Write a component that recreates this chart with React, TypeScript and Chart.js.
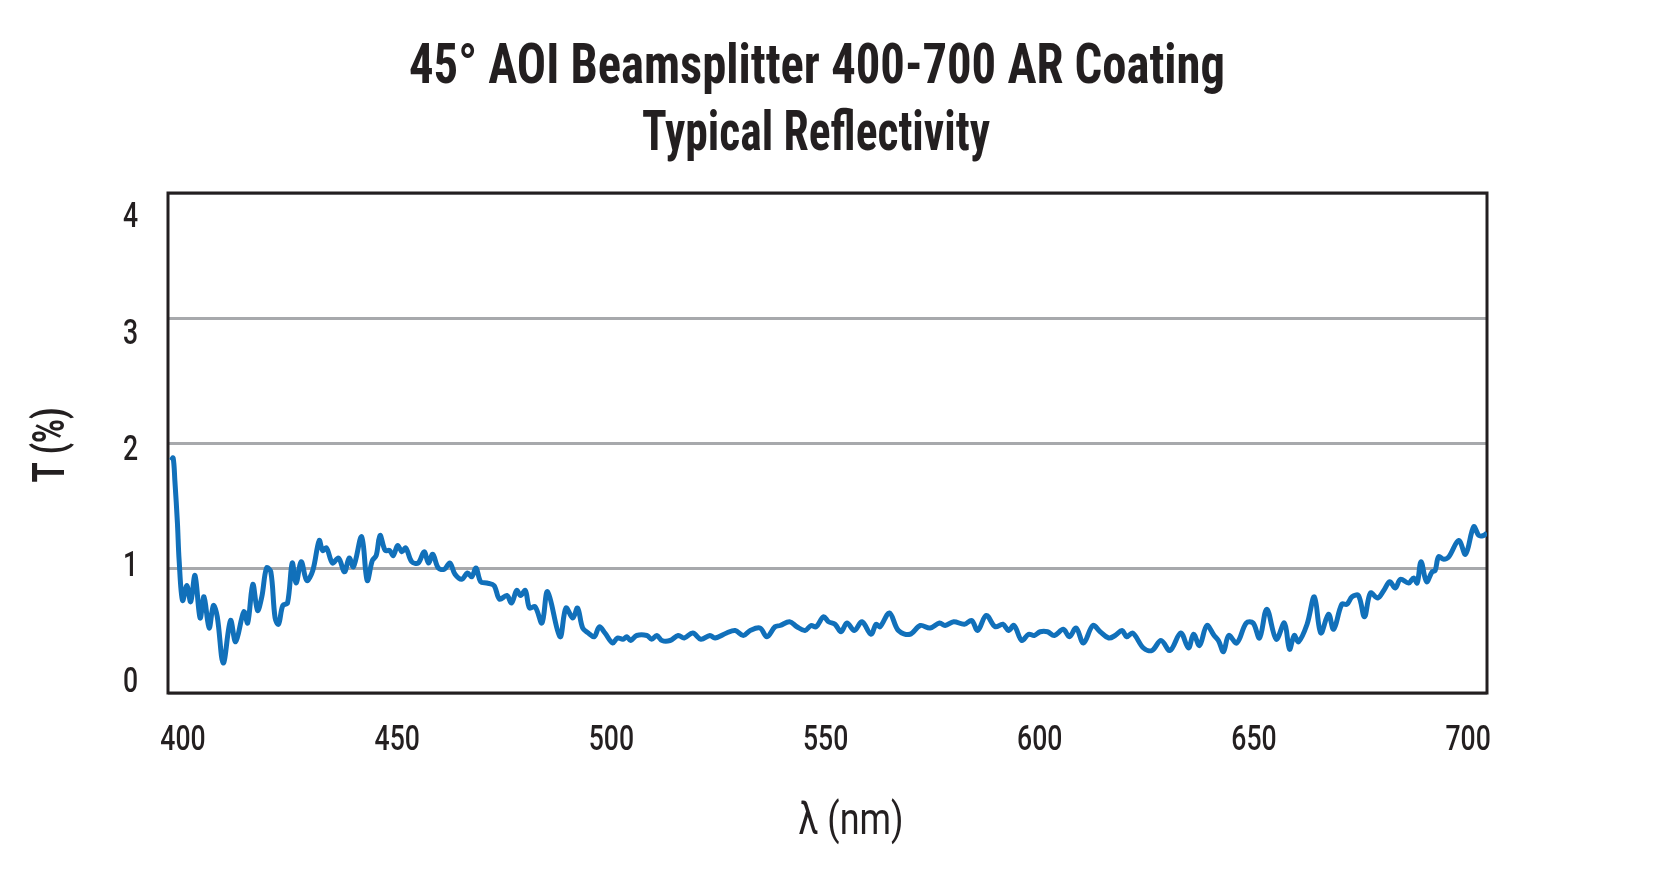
import { useEffect, useRef } from "react";
import { Chart, registerables } from "chart.js";

Chart.register(...registerables);

const TITLE_LINES = ["45° AOI Beamsplitter 400-700 AR Coating", "Typical Reflectivity"];
const X_TITLE = "λ (nm)";
const Y_TITLE = "T (%)";
const X_TICKS = [400, 450, 500, 550, 600, 650, 700];
const Y_TICKS = [0, 1, 2, 3, 4];

const WAVELENGTH = [
  397.2, 397.7, 398.1, 398.7, 399.1, 399.9, 400.9, 401.8, 402.8, 404.0,
  404.9, 406.1, 407.1, 408.0, 409.4, 411.1, 412.3, 414.2, 415.1, 416.3,
  417.4, 418.4, 419.5, 420.5, 421.5, 422.3, 423.3, 424.4, 425.5, 426.4,
  427.6, 428.9, 430.3, 431.8, 432.6, 433.5, 434.9, 436.3, 437.7, 438.8,
  439.8, 441.7, 443.0, 444.2, 445.1, 446.0, 447.2, 448.2, 449.1, 450.1,
  451.1, 452.0, 453.4, 454.9, 456.3, 457.3, 458.3, 459.6, 461.0, 462.3,
  463.5, 465.1, 466.4, 467.4, 468.4, 469.5, 470.9, 472.6, 473.9, 475.6,
  476.7, 477.9, 478.8, 479.9, 480.9, 482.2, 483.8, 485.1, 488.0, 489.4,
  491.0, 492.1, 493.3, 494.6, 496.0, 497.2, 498.5, 500.3, 501.4, 502.7,
  503.6, 504.5, 505.9, 508.3, 509.4, 510.6, 511.8, 513.7, 515.6, 517.0,
  519.0, 520.9, 523.0, 524.2, 526.9, 528.9, 530.8, 532.4, 534.7, 536.3,
  538.2, 539.4, 541.6, 543.3, 545.2, 546.6, 547.8, 549.5, 550.7, 552.2,
  553.6, 555.0, 556.7, 558.5, 560.6, 561.8, 562.7, 564.9, 567.0, 569.7,
  572.1, 574.4, 576.6, 577.9, 579.9, 582.4, 584.1, 585.5, 587.5, 589.6,
  591.4, 592.7, 594.0, 595.8, 597.4, 598.7, 600.1, 601.8, 603.4, 605.5,
  606.9, 608.5, 610.2, 612.4, 614.1, 616.1, 617.6, 619.2, 620.3, 621.7,
  624.2, 626.2, 628.3, 630.4, 632.9, 634.7, 635.9, 637.3, 639.0, 640.7,
  641.7, 642.9, 644.1, 646.0, 648.2, 649.8, 651.3, 653.0, 655.2, 657.1,
  658.3, 659.4, 660.4, 662.4, 664.1, 665.6, 667.4, 668.6, 670.5, 671.7,
  672.9, 674.4, 675.8, 677.2, 678.9, 680.3, 681.7, 683.0, 684.2, 686.1,
  687.3, 688.1, 689.0, 690.3, 691.6, 692.3, 693.1, 694.3, 695.5, 697.8,
  699.4, 701.3, 702.5, 703.6, 704.4,
];

const REFLECTANCE = [
  1.86, 1.88, 1.70, 1.36, 1.06, 0.74, 0.86, 0.73, 0.94, 0.60,
  0.77, 0.52, 0.70, 0.61, 0.24, 0.58, 0.41, 0.65, 0.56, 0.87,
  0.66, 0.77, 1.00, 0.97, 0.60, 0.55, 0.70, 0.72, 1.04, 0.88,
  1.05, 0.90, 0.98, 1.22, 1.14, 1.16, 1.04, 1.08, 0.97, 1.08,
  1.01, 1.25, 0.90, 1.06, 1.10, 1.26, 1.14, 1.14, 1.10, 1.18,
  1.13, 1.16, 1.05, 1.04, 1.13, 1.04, 1.11, 1.00, 0.99, 1.04,
  0.95, 0.91, 0.96, 0.93, 1.00, 0.89, 0.88, 0.86, 0.75, 0.78,
  0.72, 0.82, 0.78, 0.82, 0.68, 0.69, 0.56, 0.81, 0.45, 0.68,
  0.60, 0.68, 0.52, 0.48, 0.45, 0.53, 0.48, 0.40, 0.44, 0.43,
  0.45, 0.42, 0.46, 0.46, 0.43, 0.46, 0.42, 0.42, 0.46, 0.44,
  0.48, 0.43, 0.46, 0.44, 0.48, 0.50, 0.46, 0.50, 0.52, 0.45,
  0.53, 0.54, 0.57, 0.53, 0.50, 0.54, 0.53, 0.61, 0.57, 0.55,
  0.49, 0.56, 0.50, 0.57, 0.47, 0.55, 0.53, 0.64, 0.50, 0.47,
  0.54, 0.52, 0.56, 0.54, 0.57, 0.55, 0.58, 0.50, 0.62, 0.53,
  0.55, 0.50, 0.54, 0.42, 0.47, 0.46, 0.49, 0.49, 0.46, 0.51,
  0.45, 0.52, 0.40, 0.54, 0.49, 0.44, 0.46, 0.50, 0.45, 0.48,
  0.36, 0.34, 0.42, 0.34, 0.48, 0.36, 0.47, 0.38, 0.54, 0.46,
  0.42, 0.33, 0.46, 0.40, 0.56, 0.56, 0.44, 0.67, 0.43, 0.56,
  0.35, 0.46, 0.41, 0.55, 0.77, 0.48, 0.63, 0.51, 0.71, 0.71,
  0.77, 0.78, 0.61, 0.80, 0.76, 0.82, 0.89, 0.84, 0.91, 0.88,
  0.92, 0.88, 1.05, 0.89, 0.97, 0.98, 1.09, 1.07, 1.09, 1.22,
  1.11, 1.33, 1.26, 1.26, 1.28,
];

const X_MIN = 396.5;
const X_MAX = 704.4;
const Y_MIN = 0;
const Y_MAX = 4;
// label axis: tick labels in the original are spaced slightly tighter than the grid
const Y_LABEL_MIN = -0.112;
const Y_LABEL_MAX = 4.189;

const TEXT_COLOR = "#231F20";
const LINE_COLOR = "#1170BA";
const GRID_COLOR = "#A7A9AC";
const CONDENSED = "'Roboto Condensed', 'Liberation Sans Narrow', 'DejaVu Sans Condensed', Roboto, 'Liberation Sans', sans-serif";
const TICK_FONT = "500 35px Roboto, 'Liberation Sans', sans-serif";
const TICK_SQUEEZE = 0.76;

const textPlugin = {
  id: "customTexts",
  beforeDatasetsDraw(chart: any) {
    const { ctx, chartArea } = chart;
    ctx.save();
    ctx.strokeStyle = TEXT_COLOR;
    ctx.lineWidth = 3;
    ctx.strokeRect(chartArea.left, chartArea.top, chartArea.right - chartArea.left, chartArea.bottom - chartArea.top);
    ctx.restore();
  },
  afterDraw(chart: any) {
    const ctx = chart.ctx as CanvasRenderingContext2D;
    const fitted = (text: string, cx: number, cy: number, font: string, width: number, rotate: boolean) => {
      ctx.save();
      ctx.font = font;
      const w = ctx.measureText(text).width;
      ctx.translate(cx, cy);
      if (rotate) ctx.rotate(-Math.PI / 2);
      ctx.scale(width / w, 1);
      ctx.textAlign = "center";
      ctx.textBaseline = "alphabetic";
      ctx.fillStyle = TEXT_COLOR;
      ctx.fillText(text, 0, 0);
      ctx.restore();
    };
    const squeezed = (text: string, x: number, y: number, align: CanvasTextAlign) => {
      ctx.save();
      ctx.font = TICK_FONT;
      ctx.translate(x, y);
      ctx.scale(TICK_SQUEEZE, 1);
      ctx.textAlign = align;
      ctx.textBaseline = "alphabetic";
      ctx.fillStyle = TEXT_COLOR;
      ctx.fillText(text, 0, 0);
      ctx.restore();
    };
    // axis tick labels, positioned by the chart's own scales
    const xs = chart.scales.x;
    const ys = chart.scales.yLabels;
    X_TICKS.forEach((v) => squeezed(String(v), xs.getPixelForValue(v), chart.chartArea.bottom + 57, "center"));
    Y_TICKS.forEach((v) => squeezed(String(v), chart.chartArea.left - 30, ys.getPixelForValue(v) + 12.5, "right"));

    fitted(TITLE_LINES[0], 817, 83, `bold 55px ${CONDENSED}`, 816, false);
    fitted(TITLE_LINES[1], 816, 150, `bold 55px ${CONDENSED}`, 348, false);
    fitted(X_TITLE, 851, 834, `44px Roboto, sans-serif`, 105, false);
    fitted(Y_TITLE, 64, 445, `bold 44px Roboto, sans-serif`, 75, true);
  },
};

export default function App() {
  const canvasRef = useRef<HTMLCanvasElement | null>(null);

  useEffect(() => {
    if (!canvasRef.current) return;
    const points = WAVELENGTH.map((x, i) => ({ x, y: REFLECTANCE[i] }));
    const chart = new Chart(canvasRef.current, {
      type: "line",
      data: {
        datasets: [
          {
            label: "Reflectivity",
            data: points,
            xAxisID: "x",
            yAxisID: "y",
            borderColor: LINE_COLOR,
            borderWidth: 5,
            pointRadius: 0,
            tension: 0.35,
            fill: false,
          },
        ],
      },
      options: {
        animation: false,
        responsive: true,
        maintainAspectRatio: false,
        layout: { padding: { top: 193, right: 180, left: 0, bottom: 0 } },
        plugins: {
          legend: { display: false },
          title: { display: false },
          tooltip: { enabled: false },
        },
        scales: {
          x: {
            type: "linear",
            min: X_MIN,
            max: X_MAX,
            grid: { display: false },
            border: { display: false },
            afterFit: (s: any) => {
              s.height = 884 - 693;
            },
            afterBuildTicks: (s: any) => {
              s.ticks = X_TICKS.map((v) => ({ value: v }));
            },
            ticks: { display: false },
          },
          y: {
            type: "linear",
            position: "left",
            min: Y_MIN,
            max: Y_MAX,
            afterFit: (s: any) => {
              s.width = 0;
            },
            afterBuildTicks: (s: any) => {
              s.ticks = Y_TICKS.map((v) => ({ value: v }));
            },
            ticks: { display: false },
            border: { display: false },
            grid: { color: GRID_COLOR, lineWidth: 3, drawTicks: false },
          },
          yLabels: {
            type: "linear",
            position: "left",
            min: Y_LABEL_MIN,
            max: Y_LABEL_MAX,
            grid: { display: false },
            border: { display: false },
            afterFit: (s: any) => {
              s.width = 168;
            },
            afterBuildTicks: (s: any) => {
              s.ticks = Y_TICKS.map((v) => ({ value: v }));
            },
            ticks: { display: false },
          },
        },
      },
      plugins: [textPlugin],
    });
    return () => chart.destroy();
  }, []);

  return (
    <div style={{ position: "fixed", left: 0, top: 0, width: "1667px", height: "884px", background: "#fff" }}>
      <canvas ref={canvasRef} />
    </div>
  );
}
